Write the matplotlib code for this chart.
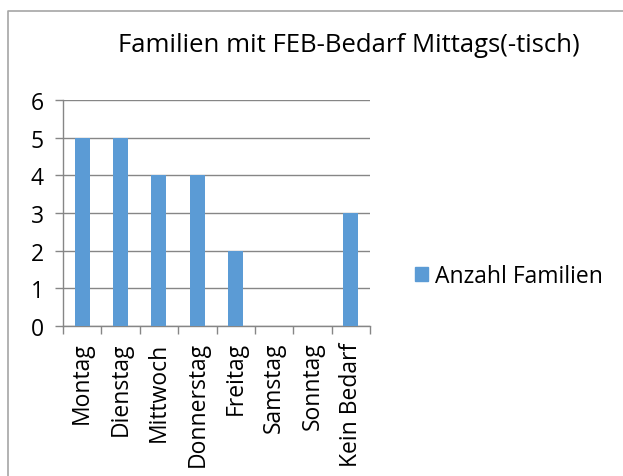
import matplotlib.pyplot as plt
from matplotlib.lines import Line2D
from matplotlib.patches import Patch

categories = ['Montag', 'Dienstag', 'Mittwoch', 'Donnerstag', 'Freitag',
              'Samstag', 'Sonntag', 'Kein Bedarf']
values = [5, 5, 4, 4, 2, 0, 0, 3]
yticks = [0, 1, 2, 3, 4, 5, 6]

W, H = 623, 477
bar_color = '#5B9BD5'
grid_color = '#868686'

plt.rcParams['font.family'] = ['Open Sans', 'DejaVu Sans']

fig = plt.figure(figsize=(W / 100, H / 100), dpi=100)
ax = fig.add_axes([63 / W, 1 - 327 / H, (370 - 63) / W, (327 - 101) / H])

x = list(range(len(categories)))
ax.bar(x, values, width=0.39, color=bar_color, zorder=3)

ax.set_xlim(-0.5, len(categories) - 0.5)
ax.set_ylim(0, 6)
ax.set_yticks(yticks)
ax.yaxis.grid(True, color=grid_color, linewidth=1)
ax.set_axisbelow(True)

for s in ['top', 'right']:
    ax.spines[s].set_visible(False)
for s in ['left', 'bottom']:
    ax.spines[s].set_color(grid_color)
    ax.spines[s].set_linewidth(1)

ax.tick_params(axis='y', length=5.8, width=1, color=grid_color,
               labelsize=16.5, pad=8)
ax.set_xticks(x)
ax.set_xticklabels(categories, rotation=90, fontsize=16.5)
ax.tick_params(axis='x', which='major', length=0, pad=11)
ax.set_xticks([i - 0.5 for i in range(len(categories) + 1)], minor=True)
ax.tick_params(axis='x', which='minor', length=5.8, width=1, color=grid_color)

fig.text(349 / W, 1 - 46 / H, 'Familien mit FEB-Bedarf Mittags(-tisch)',
         ha='center', va='center', fontsize=18.5)

handle = Patch(color=bar_color)
fig.legend([handle], ['Anzahl Familien'], loc='center left',
           bbox_to_anchor=(394 / W, 1 - 277 / H), frameon=False,
           fontsize=16.5, handlelength=0.6, handleheight=0.6,
           handletextpad=0.3)

fig.add_artist(Line2D([8 / W, 8 / W, 1], [0, 1 - 12 / H, 1 - 12 / H],
                      transform=fig.transFigure, color='#a6a6a6', linewidth=1.2))

fig.savefig('out.png', dpi=100)
